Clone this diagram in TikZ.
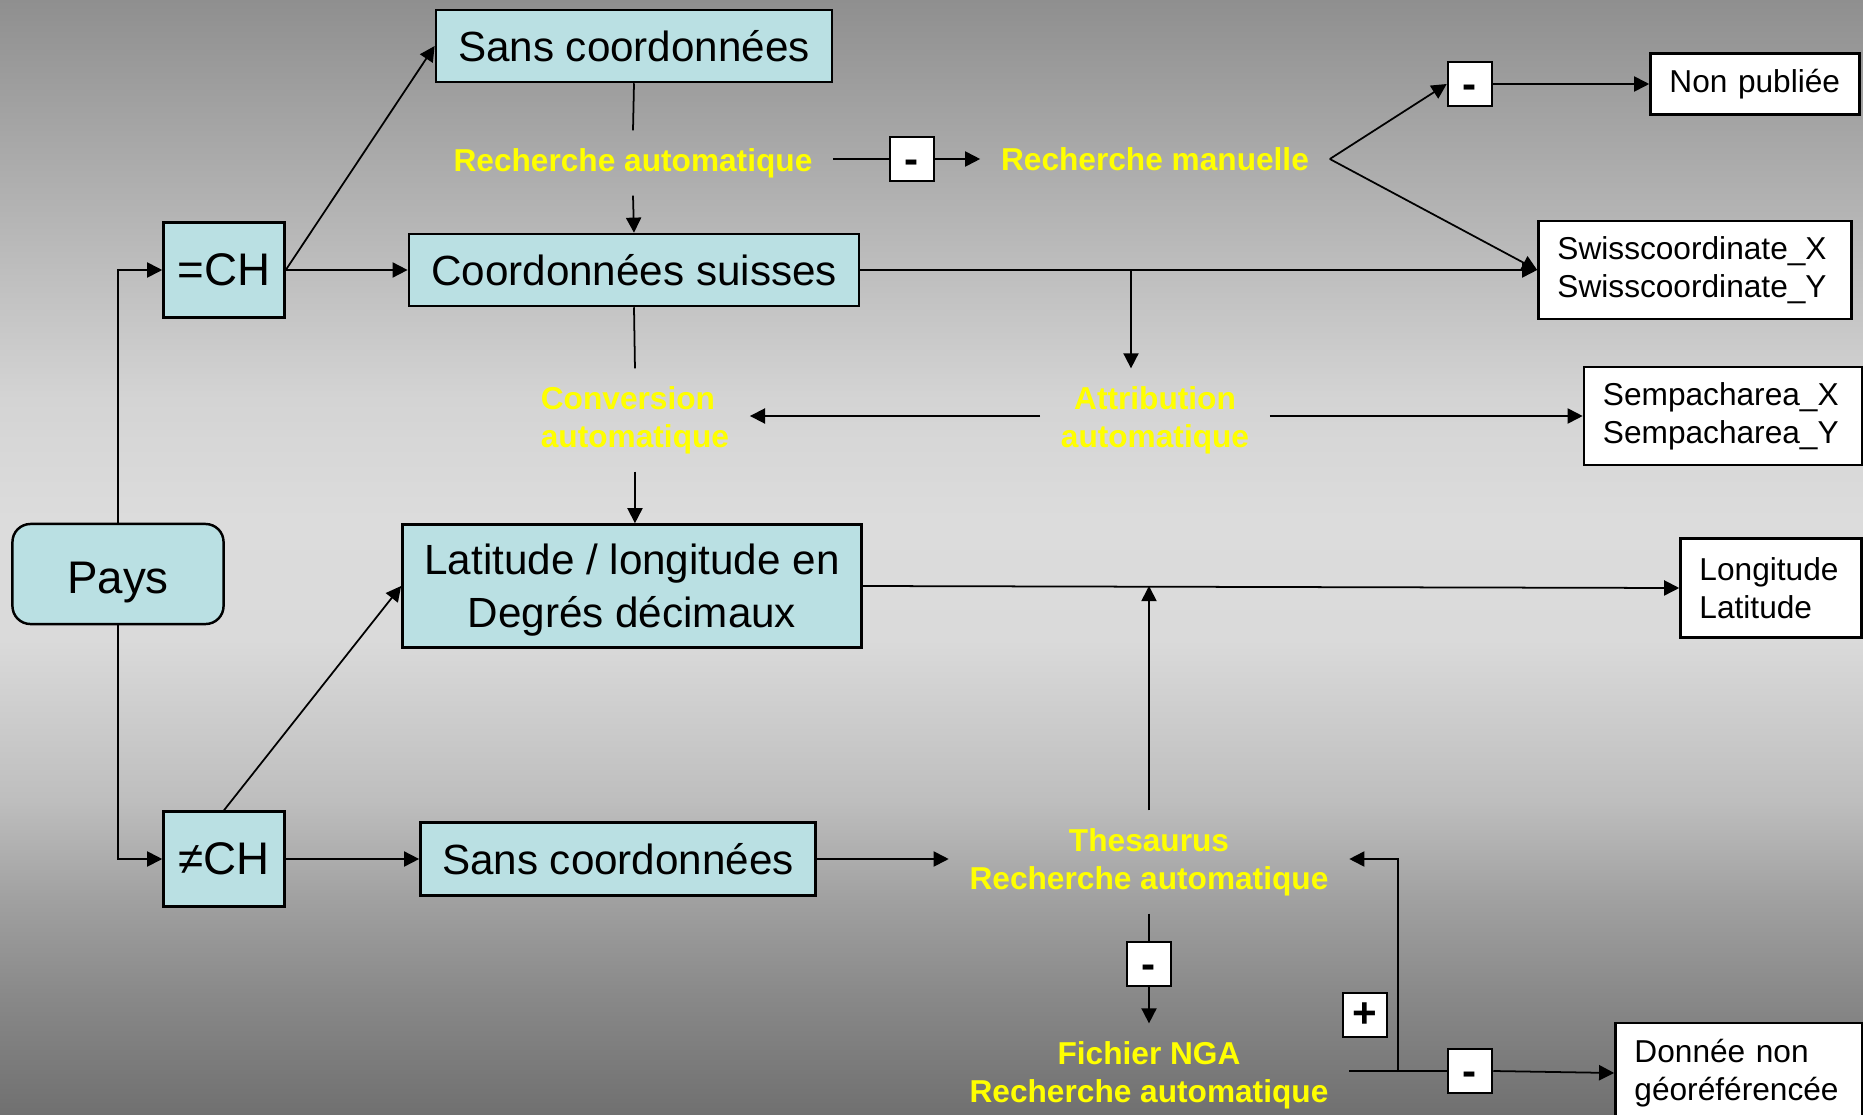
\documentclass[tikz,border=0pt]{standalone}
\usepackage{fontspec}
\setmainfont{Liberation Sans}
\usepackage{xcolor}
\usetikzlibrary{arrows.meta}

\definecolor{bleuclair}{HTML}{BAE0E3}
\definecolor{jaune}{HTML}{FFFF00}
\definecolor{grisA}{HTML}{707070}
\definecolor{grisB}{HTML}{888888}
\definecolor{grisC}{HTML}{A0A0A0}
\definecolor{grisD}{HTML}{BEBEBE}
\definecolor{grisE}{HTML}{DADADA}
\definecolor{grisF}{HTML}{DCDCDC}
\definecolor{grisG}{HTML}{D4D4D4}
\definecolor{grisH}{HTML}{8F8F8F}
\pgfdeclareverticalshading{fond}{100bp}{color(0bp)=(grisA); color(25bp)=(grisA);
  color(30.2bp)=(grisB); color(34.6bp)=(grisC); color(39.1bp)=(grisD);
  color(46.3bp)=(grisE); color(51.7bp)=(grisF); color(57.1bp)=(grisG);
  color(75bp)=(grisH); color(100bp)=(grisH)}

\begin{document}
\begin{tikzpicture}[
    x=0.01cm, y=-0.01cm,
    >={Triangle[length=4.3pt,width=4.3pt]},
    line width=0.5pt,
    bleu/.style={draw, line width=0.7pt, fill=bleuclair, align=center, inner sep=0pt,
      font=\fontsize{12}{15}\selectfont},
    blanc/.style={draw, line width=0.7pt, fill=white, align=left, inner xsep=0.19cm,
      inner ysep=0pt, font=\fontsize{9}{10.8}\selectfont},
    signe/.style={draw, line width=0.7pt, fill=white, minimum size=0.44cm, inner sep=0pt,
      font=\bfseries\fontsize{12}{12}\selectfont},
    moins/.style={signe, text height=8pt, text depth=0pt},
    texte/.style={text=jaune, align=center, inner xsep=0.2cm, inner ysep=0.17cm,
      font=\bfseries\fontsize{9}{10.8}\selectfont},
    grand/.style={font=\fontsize{13}{15}\selectfont}
  ]
\useasboundingbox (0,0) rectangle (1863,1115);
\shade[shading=fond] (0,0) rectangle (1863,1115);

% boites bleues
\node[bleu, grand, rounded corners=0.18cm, minimum width=2.11cm, minimum height=1cm,
  text height=11pt, text depth=0pt] (pays) at (118,574) {Pays};
\node[bleu, grand, minimum width=1.21cm, minimum height=0.95cm] (ch) at (224,270) {=CH};
\node[bleu, grand, minimum width=1.21cm, minimum height=0.95cm] (nonch) at (224,859) {≠CH};
\node[bleu, minimum width=3.96cm, minimum height=0.72cm] (sans1) at (634,46) {Sans coordonnées};
\node[bleu, minimum width=4.5cm, minimum height=0.72cm] (suisse) at (634,270) {Coordonnées suisses};
\node[bleu, minimum width=4.59cm, minimum height=1.23cm, text depth=0pt] (degres) at (632,586) {Latitude / longitude en\\Degrés décimaux};
\node[bleu, minimum width=3.95cm, minimum height=0.73cm] (sans2) at (618,859) {Sans coordonnées};

% boites blanches
\node[blanc, text width=1.71cm, minimum height=0.61cm] (nonpub) at (1755,84) {Non~publiée};
\node[blanc, text width=2.75cm, minimum height=0.98cm] (swiss) at (1695,270) {Swisscoordinate\_X\\Swisscoordinate\_Y};
\node[blanc, text width=2.40cm, minimum height=0.98cm] (sempach) at (1723,416) {Sempacharea\_X\\Sempacharea\_Y};
\node[blanc, text width=1.43cm, minimum height=0.99cm] (lonlat) at (1771,588) {Longitude\\Latitude};
\node[blanc, text width=2.09cm, minimum height=1.0cm] (nongeo) at (1739,1073) {Donnée~non\\géoréférencée};

% textes jaunes
\node[texte] (rauto) at (633,163) {Recherche automatique};
\node[texte] (rmanu) at (1155,159) {Recherche manuelle};
\node[texte, align=left, anchor=west] (conv) at (520,420) {Conversion\\automatique};
\node[texte] (attrib) at (1155,420) {Attribution\\automatique};
\node[texte] (thes) at (1149,862) {Thesaurus\\Recherche automatique};
\node[texte] (nga) at (1149,1075) {Fichier NGA\\Recherche automatique};

% signes
\node[moins] (moins1) at (912,159) {-};
\node[moins] (moins2) at (1470,84) {-};
\node[moins] (moins3) at (1149,964) {-};
\node[moins] (moins4) at (1470,1071) {-};
\node[signe] (plus) at (1365,1015) {+};

\coordinate (embr) at (1131,270);
\coordinate (retour) at (1398,1072);

% fleches
\draw[->] (pays.north) |- (ch.west);
\draw[->] (pays.south) |- (nonch.west);
\draw[->] (ch.east) -- (sans1.west);
\draw[->] (ch.east) -- (suisse.west);
\draw (sans1.south) -- (rauto.north);
\draw[->] (rauto.south) -- (suisse.north);
\draw (rauto.east |- moins1.west) -- (moins1.west);
\draw[->] (moins1.east) -- (rmanu.west);
\draw[->] (rmanu.east) -- (moins2.west);
\draw[->] (moins2.east) -- (nonpub.west);
\draw[->] (rmanu.east) -- (swiss.west);
\draw[->] (suisse.east) -- (swiss.west);
\draw[->] (embr) -- (embr |- attrib.north);
\draw (suisse.south) -- (conv.north);
\draw[->] (conv.south) -- (conv.south |- degres.north);
\draw[->] (attrib.west |- sempach.west) -- (conv.east |- sempach.west);
\draw[->] (attrib.east |- sempach.west) -- (sempach.west);
\draw[->] (nonch.north) -- (degres.west);
\draw[->] (nonch.east) -- (sans2.west);
\draw[->] (sans2.east) -- (thes.west |- sans2.east);
\draw[->] (degres.east) -- (lonlat.west);
\draw[->] (thes.north) -- (thes.north |- degres.east);
\draw (thes.south) -- (moins3.north);
\draw[->] (moins3.south) -- (nga.north);
\draw (nga.east |- moins4.west) -- (moins4.west);
\draw[->] (moins4.east) -- (nongeo.west);
\draw[->] (retour) |- (thes.east |- sans2.east);
\end{tikzpicture}
\end{document}
